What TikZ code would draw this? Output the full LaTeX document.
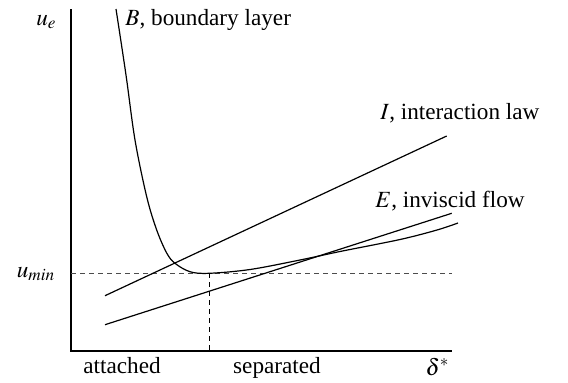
\documentclass[tikz,border=0pt]{standalone}
\usepackage{mathptmx}
\usepackage{fontspec}
\setmainfont{Liberation Serif}

\begin{document}
\begin{tikzpicture}[
    x=0.5pt, y=-0.5pt,
    every node/.style={font=\fontsize{11.6}{14}\selectfont, inner sep=0pt},
    curve/.style={line width=0.6pt},
    guide/.style={line width=0.5pt, dash pattern=on 2.5pt off 2pt}
]
    \useasboundingbox (0,0) rectangle (568,382);

    % axes
    \coordinate (O) at (71,351);
    \coordinate (Ytop) at (71,9);
    \coordinate (Xend) at (452,351);
    \draw[curve] (Ytop) -- (O) -- (Xend);

    % level of the minimum
    \coordinate (M) at (209,273.3);
    \coordinate (Mleft) at (71,273.3);
    \coordinate (Mright) at (452,273.3);
    \coordinate (Mfoot) at (209,351);
    \draw[guide, black!70] (Mleft) -- (Mright);
    \draw[guide] (M) -- (Mfoot);

    % interaction law and inviscid flow
    \coordinate (I0) at (105,295.7);
    \coordinate (I1) at (446.7,136);
    \coordinate (E0) at (105,324.7);
    \coordinate (E1) at (451.7,213.3);
    \draw[curve] (I0) -- (I1);
    \draw[curve] (E0) -- (E1);

    % boundary layer
    \draw[curve] plot[smooth, tension=0.55] coordinates {
        (116,9) (126,75) (135,140) (146.7,196.7) (156.7,230) (166.7,253)
        (175,263.3) (190,271.7) (209,273.3) (250,269.5) (300,260)
        (340,251.5) (400,239.5) (437,230) (458,223)};

    % labels
    \node[anchor=base west] (Blab) at (125,25) {$B$, boundary layer};
    \node[anchor=base west] (Ilab) at (380,119) {$I$, interaction law};
    \node[anchor=base west] (Elab) at (375,207.7) {$E$, inviscid flow};
    \node[anchor=base] (ue) at (46.5,25) {$u_e$};
    \node[anchor=base] (umin) at (36,277) {$u_{min}$};
    \node[anchor=base] (att) at (122,373) {attached};
    \node[anchor=base] (sep) at (277,373) {separated};
    \node[anchor=base] (dstar) at (437.5,375) {$\delta^*$};
\end{tikzpicture}
\end{document}
